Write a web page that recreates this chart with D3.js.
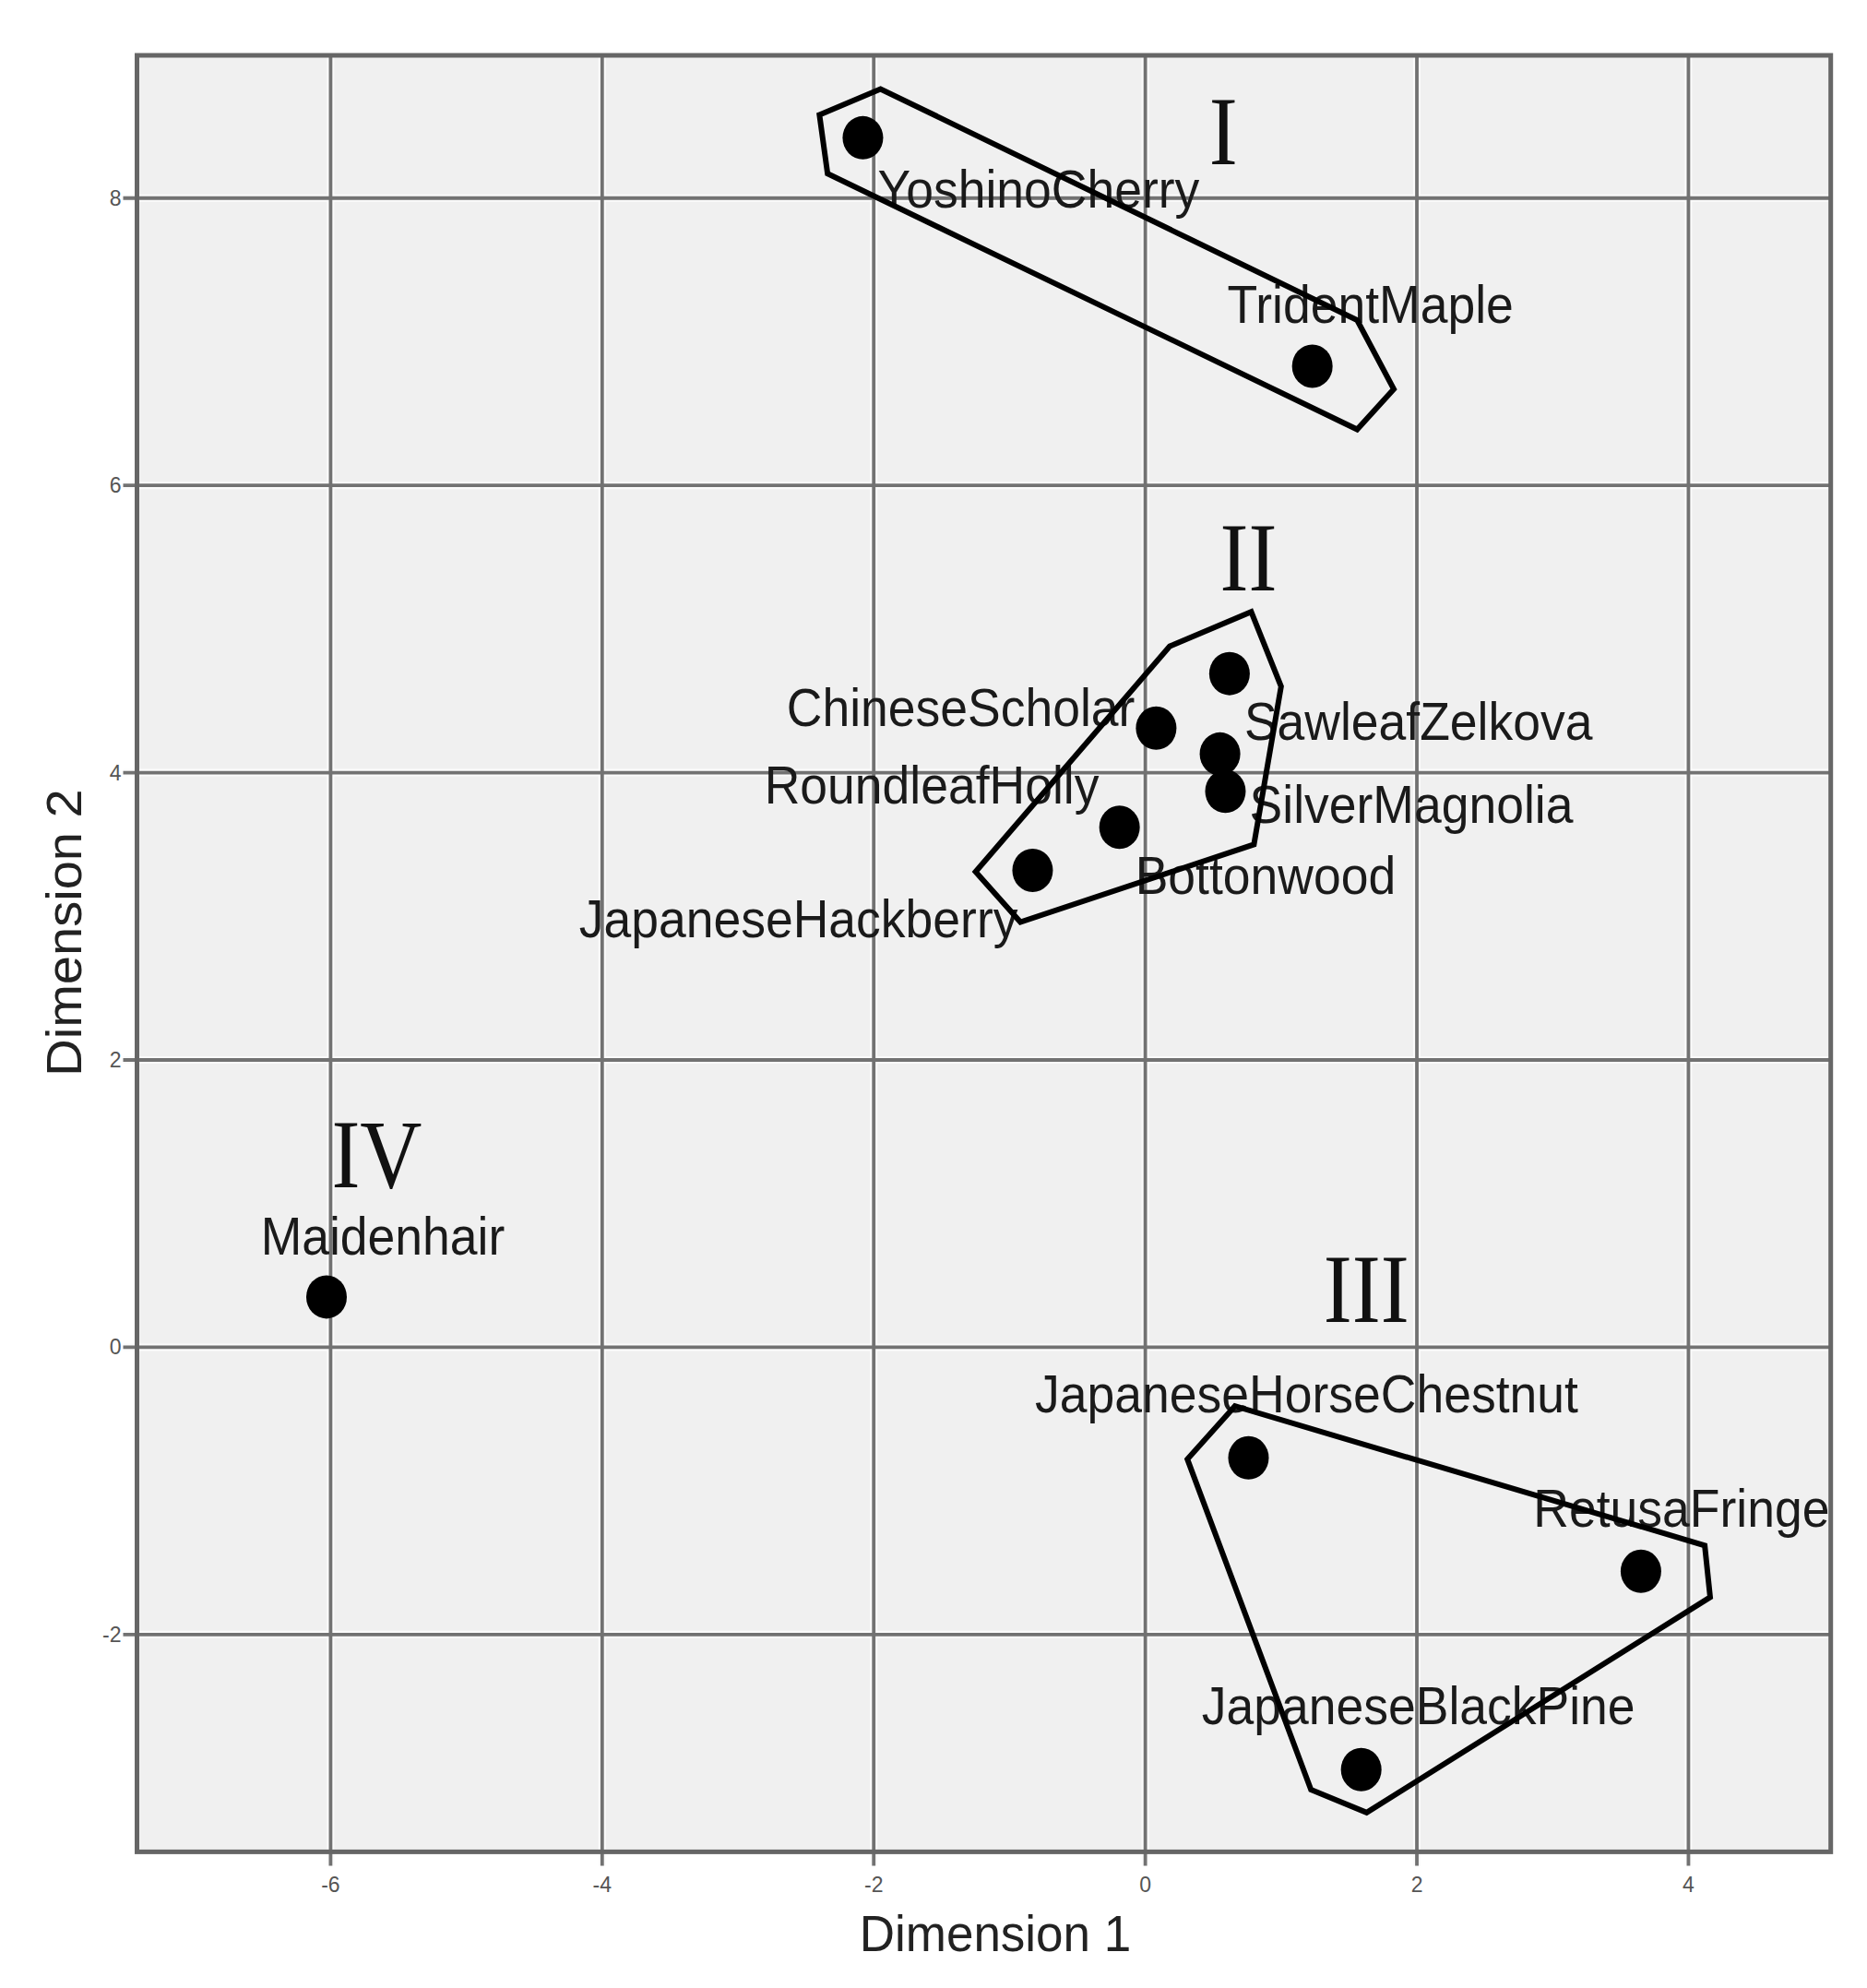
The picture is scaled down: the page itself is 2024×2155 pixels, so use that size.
<!DOCTYPE html>
<html>
<head>
<meta charset="utf-8">
<script src="https://cdn.jsdelivr.net/npm/d3@7"></script>
<style>
  html, body { margin: 0; padding: 0; background: #ffffff; }
  svg { display: block; }
</style>
</head>
<body>
<div id="chart"></div>
<script>
// ---------------- data ----------------
const names = ["YoshinoCherry", "TridentMaple", "ChineseScholar", "SawleafZelkova",
  "RoundleafHolly", "SilverMagnolia", "Bottonwood", "JapaneseHackberry",
  "Maidenhair", "JapaneseHorseChestnut", "RetusaFringe", "JapaneseBlackPine"];
const dim1 = [-2.08, 1.23, 0.08, 0.62, 0.59, 0.55, -0.19, -0.83, -6.03, 0.76, 3.65, 1.59];
const dim2 = [8.42, 6.83, 4.31, 4.69, 3.87, 4.13, 3.62, 3.32, 0.35, -0.77, -1.56, -2.94];

// cluster outlines (hand-drawn hulls), in data units
const hull1X = [-2.40, -1.95, 1.56, 1.83, 1.56, -2.34];
const hull1Y = [8.58, 8.76, 7.15, 6.67, 6.39, 8.17];
const hull2X = [-1.25, 0.18, 0.78, 1.00, 0.80, -0.92];
const hull2Y = [3.31, 4.88, 5.12, 4.60, 3.50, 2.96];
const hull3X = [0.31, 0.66, 4.12, 4.16, 1.63, 1.22];
const hull3Y = [-0.78, -0.41, -1.38, -1.74, -3.24, -3.08];

// cluster numerals
const clusterNames = ["I", "II", "III", "IV"];
const clusterX = [0.575, 0.76, 1.628, -5.66];
const clusterY = [8.236, 5.268, 0.175, 1.116];

const xTicks = [-6, -4, -2, 0, 2, 4];
const yTicks = [-2, 0, 2, 4, 6, 8];
const xTitle = "Dimension 1";
const yTitle = "Dimension 2";

// label placement (layout only: anchor, pixel offsets to baseline)
const labelLayout = {
  YoshinoCherry:        ["start",  16, 76],
  TridentMaple:         ["middle", 63, -47],
  ChineseScholar:       ["end",   -23, -2],
  SawleafZelkova:       ["start",  16, 72],
  RoundleafHolly:       ["end",  -137, 13],
  SilverMagnolia:       ["start",  32, 75],
  Bottonwood:           ["start",  17, 72],
  JapaneseHackberry:    ["end",   -16, 73],
  Maidenhair:           ["middle", 61, -46],
  JapaneseHorseChestnut:["middle", 63, -49],
  RetusaFringe:         ["middle", 44, -48],
  JapaneseBlackPine:    ["middle", 62, -49]
};

// ---------------- chart ----------------
const W = 2024, H = 2155;
const plot = { left: 148.5, right: 1984.7, top: 60, bottom: 2007.4 };
const STRETCH = 1.058; // vertical stretch of the original image

const svg = d3.select("#chart").append("svg")
  .attr("width", W).attr("height", H)
  .attr("viewBox", `0 0 ${W} ${H}`);

const x = d3.scaleLinear().domain([-7.426, 5.048]).range([plot.left, plot.right]);
const y = d3.scaleLinear().domain([-3.513, 8.994]).range([plot.bottom, plot.top]);

// background
svg.append("rect")
  .attr("x", plot.left).attr("y", plot.top)
  .attr("width", plot.right - plot.left).attr("height", plot.bottom - plot.top)
  .attr("fill", "#f0f0f0");

// grid lines with light halo, extended to form tick marks
const grid = svg.append("g");
function gridLines(color, width) {
  grid.selectAll(null).data(xTicks).enter().append("line")
    .attr("x1", d => x(d)).attr("x2", d => x(d))
    .attr("y1", plot.top).attr("y2", plot.bottom + 15)
    .attr("stroke", color).attr("stroke-width", width);
  grid.selectAll(null).data(yTicks).enter().append("line")
    .attr("y1", d => y(d)).attr("y2", d => y(d))
    .attr("x1", plot.left - 15).attr("x2", plot.right)
    .attr("stroke", color).attr("stroke-width", width);
}
gridLines("#fbfbfb", 8);
gridLines("#727272", 3.8);

// border
svg.append("rect")
  .attr("x", plot.left).attr("y", plot.top)
  .attr("width", plot.right - plot.left).attr("height", plot.bottom - plot.top)
  .attr("fill", "none").attr("stroke", "#666666").attr("stroke-width", 5);

// tick labels
svg.append("g").selectAll("text").data(xTicks).enter().append("text")
  .attr("x", d => x(d)).attr("y", plot.bottom + 44)
  .attr("text-anchor", "middle")
  .attr("font-family", "'Liberation Sans', Arial, sans-serif")
  .attr("font-size", 23).attr("fill", "#555")
  .text(d => d);
svg.append("g").selectAll("text").data(yTicks).enter().append("text")
  .attr("x", plot.left - 17).attr("y", d => y(d) + 8)
  .attr("text-anchor", "end")
  .attr("font-family", "'Liberation Sans', Arial, sans-serif")
  .attr("font-size", 23).attr("fill", "#555")
  .text(d => d);

// point labels
const pts = names.map((n, i) => ({ name: n, d1: dim1[i], d2: dim2[i] }));
svg.append("g").selectAll("text").data(pts).enter().append("text")
  .attr("transform", d => {
    const L = labelLayout[d.name];
    return `translate(${x(d.d1) + L[1]},${y(d.d2) + L[2]}) scale(1,${STRETCH})`;
  })
  .attr("text-anchor", d => labelLayout[d.name][0])
  .attr("font-family", "'Liberation Sans', Arial, sans-serif")
  .attr("font-size", 53.5).attr("fill", "#1a1a1a")
  .text(d => d.name);

// hulls
const line = d3.line().x(d => x(d[0])).y(d => y(d[1])).curve(d3.curveLinearClosed);
const hulls = [[hull1X, hull1Y], [hull2X, hull2Y], [hull3X, hull3Y]]
  .map(([hx, hy]) => hx.map((v, i) => [v, hy[i]]));
svg.append("g").selectAll("path").data(hulls).enter().append("path")
  .attr("d", line)
  .attr("fill", "none").attr("stroke", "#000").attr("stroke-width", 6)
  .attr("stroke-linejoin", "miter");

// points
svg.append("g").selectAll("ellipse").data(pts).enter().append("ellipse")
  .attr("cx", d => x(d.d1)).attr("cy", d => y(d.d2))
  .attr("rx", 22).attr("ry", 23.5)
  .attr("fill", "#000");

// cluster numerals
svg.append("g").selectAll("text").data(clusterNames).enter().append("text")
  .attr("transform", (d, i) => `translate(${x(clusterX[i])},${y(clusterY[i])}) scale(0.93,${STRETCH})`)
  .attr("text-anchor", "middle")
  .attr("font-family", "'Liberation Serif', 'Times New Roman', serif")
  .attr("font-size", 100).attr("fill", "#111")
  .text(d => d);

// axis titles
svg.append("text")
  .attr("transform", `translate(1079,2115) scale(1,${STRETCH})`)
  .attr("text-anchor", "middle")
  .attr("font-family", "'Liberation Sans', Arial, sans-serif")
  .attr("font-size", 53).attr("fill", "#222")
  .text(xTitle);
svg.append("text")
  .attr("transform", `translate(88,1011) rotate(-90) scale(${STRETCH},1)`)
  .attr("text-anchor", "middle")
  .attr("font-family", "'Liberation Sans', Arial, sans-serif")
  .attr("font-size", 53).attr("fill", "#222")
  .text(yTitle);
</script>
</body>
</html>
